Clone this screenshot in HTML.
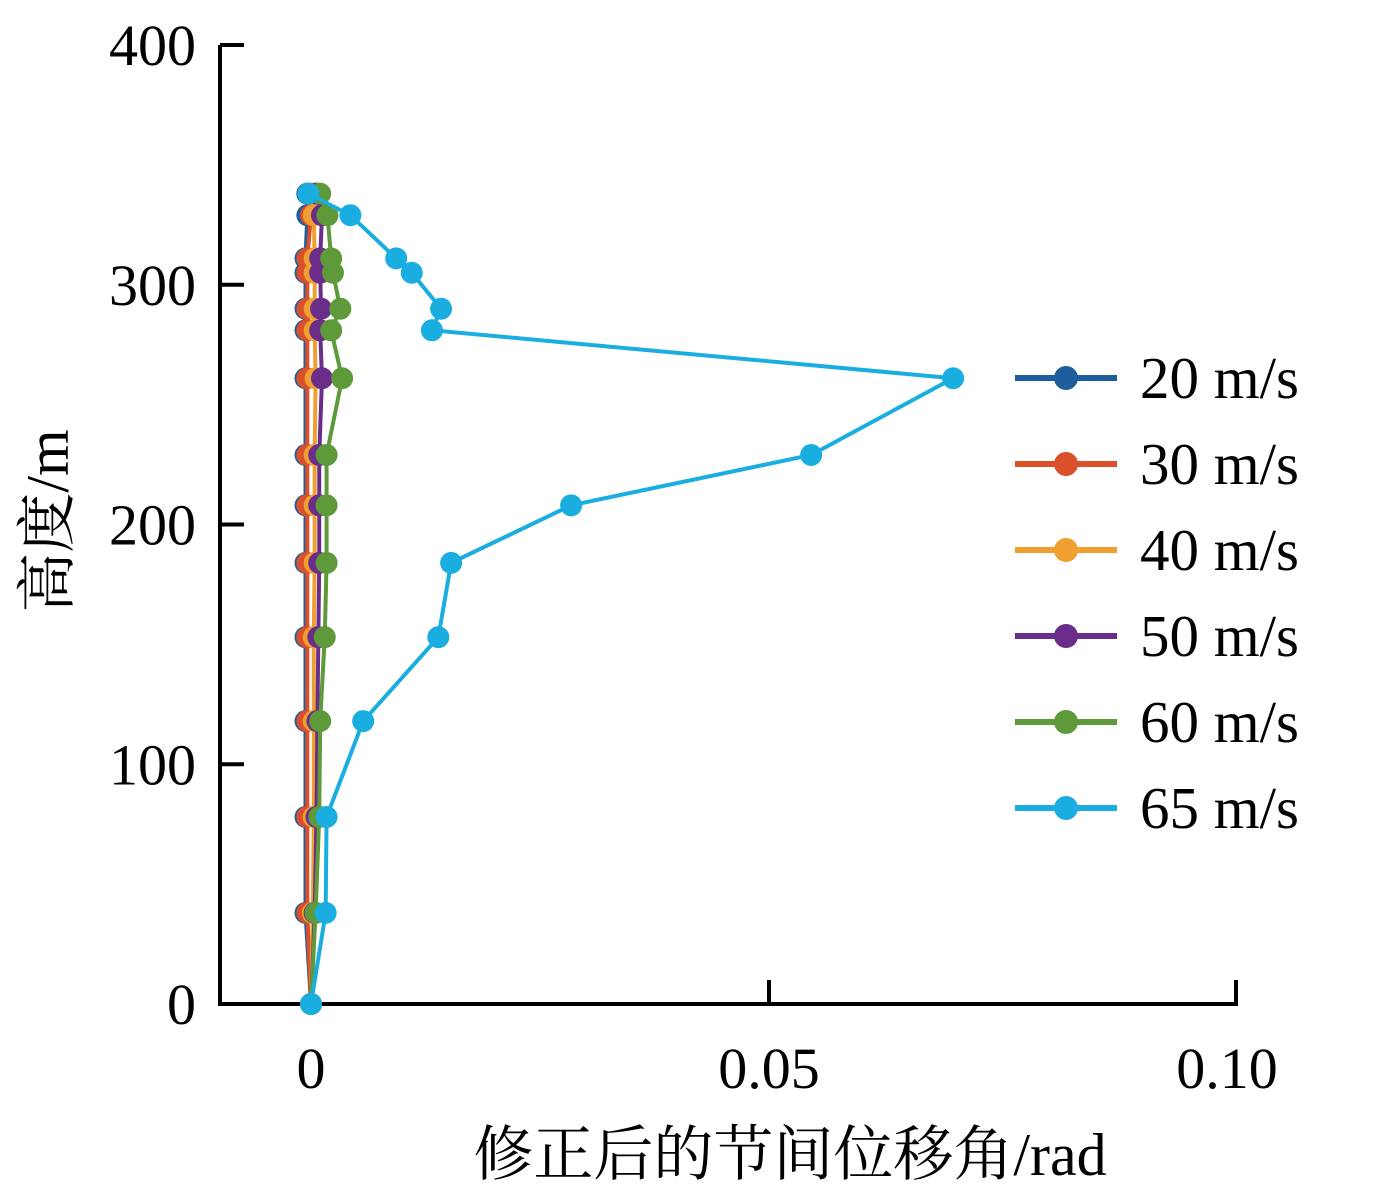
<!DOCTYPE html>
<html><head><meta charset="utf-8">
<style>
html,body{margin:0;padding:0;background:#fff;}
svg{display:block;font-family:"Liberation Serif","Noto Serif CJK SC",serif;}
</style></head>
<body>
<svg id="chart" width="1376" height="1197" viewBox="0 0 1376 1197" xmlns="http://www.w3.org/2000/svg">
<g id="axes"></g>
<g id="series"></g>
<g id="legend"></g>
</svg>
<script>
const heights = [0, 38, 78, 118, 153, 184, 208, 229, 261, 281, 290, 305, 311, 329, 338];
const seriesNames = ["20 m/s","30 m/s","40 m/s","50 m/s","60 m/s","65 m/s"];
const seriesColors = ["#1f5e9c","#d9502a","#f0a030","#6a2d8a","#5e9a3a","#1aaee0"];
const v20 = [0,-0.0006,-0.0006,-0.0006,-0.0006,-0.0006,-0.0006,-0.0006,-0.0006,-0.0006,-0.0006,-0.0006,-0.0006,-0.0004,-0.0004];
const v30 = [0,-0.0004,-0.0004,-0.0004,-0.0004,-0.0004,-0.0004,-0.0004,-0.0004,-0.0004,-0.0004,-0.0004,-0.0004,0.0000,0.0000];
const v40 = [0,0.0002,0.0003,0.0003,0.0003,0.0004,0.0004,0.0004,0.0005,0.0004,0.0004,0.0004,0.0004,0.0003,0.0002];
const v50 = [0,0.0004,0.0006,0.0007,0.0008,0.0009,0.0009,0.0009,0.0012,0.0010,0.0011,0.0010,0.0010,0.0012,0.0006];
const v60 = [0,0.0005,0.0009,0.0010,0.0015,0.0017,0.0017,0.0017,0.0034,0.0022,0.0032,0.0024,0.0022,0.0018,0.0010];
const v65 = [0,0.0016,0.0017,0.0057,0.0139,0.0153,0.0284,0.0546,0.0701,0.0132,0.0142,0.0110,0.0093,0.0043,-0.0003];
const seriesValues = [v20,v30,v40,v50,v60,v65];
const xTicks = [0, 0.05, 0.10];
const xTickLabels = ["0","0.05","0.10"];
const yTicks = [0,100,200,300,400];
const yTickLabels = ["0","100","200","300","400"];

const NS="http://www.w3.org/2000/svg";
const X0=311, XS=9160, Y0=1004, YS=2.3975;
function xs(v){return X0+v*XS;}
function ys(v){return Y0-v*YS;}
function mk(tag,attrs,parent){const e=document.createElementNS(NS,tag);for(const k in attrs)e.setAttribute(k,attrs[k]);parent.appendChild(e);return e;}

const axes=document.getElementById('axes');
let yl=mk('line',{x1:220,y1:ys(400),x2:220,y2:Y0,stroke:'#000','stroke-width':4},axes);


let xl=mk('line',{x1:218,y1:Y0,x2:1238,y2:Y0,stroke:'#000','stroke-width':4},axes);


let xe=mk('line',{x1:1236,y1:Y0,x2:1236,y2:Y0-24,stroke:'#000','stroke-width':4},axes);


yTicks.forEach((t,i)=>{
  const tk=mk('line',{x1:220,y1:ys(t),x2:244,y2:ys(t),stroke:'#000','stroke-width':4},axes);
  
  
  const tx=mk('text',{x:196,y:ys(t)+20,'text-anchor':'end','font-size':58},axes);
  tx.textContent=yTickLabels[i];
  
  
});
xTicks.forEach((t,i)=>{
  if(i<xTicks.length-1){
    const tk=mk('line',{x1:xs(t),y1:Y0,x2:xs(t),y2:Y0-24,stroke:'#000','stroke-width':4},axes);
    
    
  }
  const tx=mk('text',{x:xs(t),y:1088,'text-anchor':'middle','font-size':58},axes);
  tx.textContent=xTickLabels[i];
  
  
});
const xt=mk('text',{x:790,y:1175,'text-anchor':'middle','font-size':60},axes);
xt.textContent='修正后的节间位移角/rad';


const yt=mk('text',{x:0,y:0,'text-anchor':'middle','font-size':60,transform:'translate(68,521) rotate(-90)'},axes);
yt.textContent='高度/m';



const sg=document.getElementById('series');
seriesValues.forEach((vals,si)=>{
  const g=mk('g',{},sg);
  
  
  const pts=vals.map((v,i)=>xs(v)+','+ys(heights[i])).join(' ');
  const pl=mk('polyline',{points:pts,fill:'none',stroke:seriesColors[si],'stroke-width':4,'stroke-linejoin':'round'},g);
  
  
  vals.forEach((v,i)=>{
    const c=mk('circle',{cx:xs(v),cy:ys(heights[i]),r:11,fill:seriesColors[si]},g);
    
    
  });
});

const lg=document.getElementById('legend');
seriesNames.forEach((n,i)=>{
  const y=378+i*86;
  const g=mk('g',{},lg);
  
  
  mk('line',{x1:1015,y1:y,x2:1117,y2:y,stroke:seriesColors[i],'stroke-width':6},g);
  mk('circle',{cx:1066,cy:y,r:12,fill:seriesColors[i]},g);
  const t=mk('text',{x:1140,y:y+20,'font-size':59},g);
  t.textContent=n;
});
</script>
</body></html>
